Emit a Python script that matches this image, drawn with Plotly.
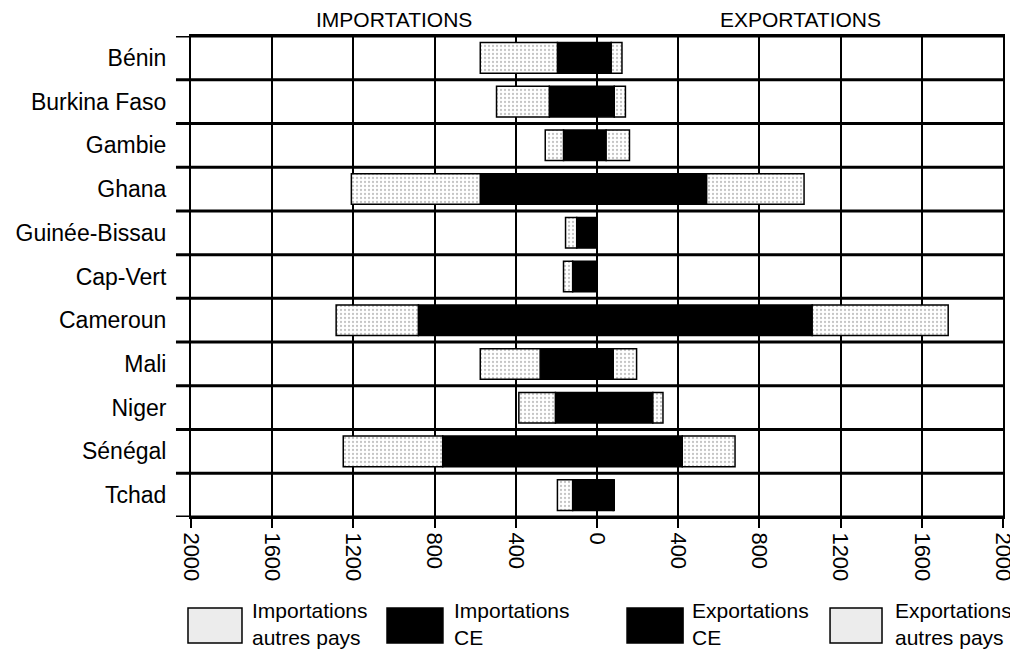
import plotly.graph_objects as go

pays = ["Bénin", "Burkina Faso", "Gambie", "Ghana", "Guinée-Bissau", "Cap-Vert",
        "Cameroun", "Mali", "Niger", "Sénégal", "Tchad"]
imp_ce = [195, 235, 165, 575, 100, 120, 880, 280, 205, 760, 120]
imp_autres = [380, 260, 90, 635, 55, 45, 405, 295, 180, 490, 75]
exp_ce = [70, 85, 45, 540, 0, 0, 1060, 80, 275, 420, 80]
exp_autres = [53, 55, 115, 480, 0, 0, 670, 115, 50, 260, 5]
tick_vals = [-2000, -1600, -1200, -800, -400, 0, 400, 800, 1200, 1600, 2000]
tick_text = ["2000", "1600", "1200", "800", "400", "0", "400", "800", "1200", "1600", "2000"]

FONT = "Liberation Sans, Arial, sans-serif"
ypos = list(range(len(pays)))
dotted = dict(shape=".", fgcolor="#8a8a8a", bgcolor="white", size=4, solidity=0.25)

fig = go.Figure()
fig.add_trace(go.Bar(y=ypos, x=[-v for v in imp_ce], orientation="h", width=0.7,
                     marker=dict(color="black", line=dict(color="black", width=1.5)),
                     name="Importations CE", showlegend=False))
fig.add_trace(go.Bar(y=ypos, x=[-v for v in imp_autres], orientation="h", width=0.7,
                     marker=dict(color="white", pattern=dotted, line=dict(color="black", width=1.5)),
                     name="Importations autres pays", showlegend=False))
fig.add_trace(go.Bar(y=ypos, x=exp_ce, orientation="h", width=0.7,
                     marker=dict(color="black", line=dict(color="black", width=1.5)),
                     name="Exportations CE", showlegend=False))
fig.add_trace(go.Bar(y=ypos, x=exp_autres, orientation="h", width=0.7,
                     marker=dict(color="white", pattern=dotted, line=dict(color="black", width=1.5)),
                     name="Exportations autres pays", showlegend=False))

shapes = []
# row boundary lines, extending left of the y axis as tick marks
for i in range(len(pays) + 1):
    shapes.append(dict(type="line", xref="paper", yref="y", x0=-0.0185, x1=1,
                       y0=i - 0.5, y1=i - 0.5, line=dict(color="black", width=3), layer="above"))
# zero separator
shapes.append(dict(type="line", xref="x", yref="paper", x0=0, x1=0, y0=0, y1=1,
                   line=dict(color="black", width=2), layer="above"))

# manual legend
leg = [
    (-0.0037, 0.0628, "#ececec", 0.0727, "Importations<br>autres pays"),
    (0.2414, 0.3103, "black", 0.3214, "Importations<br>CE"),
    (0.537, 0.606, "black", 0.6145, "Exportations<br>CE"),
    (0.787, 0.851, "#ececec", 0.8645, "Exportations<br>autres pays"),
]
annotations = []
for x0, x1, col, tx, txt in leg:
    shapes.append(dict(type="rect", xref="paper", yref="paper", x0=x0, x1=x1,
                       y0=-0.262, y1=-0.189, fillcolor=col,
                       line=dict(color="black", width=1.5)))
    annotations.append(dict(xref="paper", yref="paper", x=tx, y=-0.2225, text=txt,
                            showarrow=False, xanchor="left", yanchor="middle", align="left",
                            font=dict(family=FONT, size=21, color="black")))

annotations.append(dict(xref="paper", yref="paper", x=0.25, y=1, yshift=3, text="IMPORTATIONS",
                        showarrow=False, xanchor="center", yanchor="bottom",
                        font=dict(family=FONT, size=21, color="black")))
annotations.append(dict(xref="paper", yref="paper", x=0.75, y=1, yshift=3, text="EXPORTATIONS",
                        showarrow=False, xanchor="center", yanchor="bottom",
                        font=dict(family=FONT, size=21, color="black")))

# page body has an 8px margin, so the figure is drawn 8px smaller and offset
fig.update_layout(
    width=1010, height=641,
    margin=dict(l=183, r=15, t=28, b=132, autoexpand=False),
    barmode="relative",
    paper_bgcolor="white", plot_bgcolor="white",
    font=dict(family=FONT, color="black"),
    shapes=shapes, annotations=annotations,
    xaxis=dict(range=[-2000, 2000], tickvals=tick_vals, ticktext=tick_text,
               tickangle=90, tickfont=dict(size=22, family=FONT, color="black"),
               ticks="outside", ticklen=9, tickwidth=2, tickcolor="black",
               showgrid=True, gridcolor="black", gridwidth=1.5,
               showline=True, linecolor="black", linewidth=2, mirror=True,
               zeroline=False, fixedrange=True, automargin=False),
    yaxis=dict(range=[len(pays) - 0.5, -0.5], tickvals=ypos, ticktext=pays,
               tickfont=dict(size=23, family=FONT, color="black"),
               ticks="", ticklabelstandoff=18,
               showgrid=False, zeroline=False, automargin=False,
               showline=True, linecolor="black", linewidth=2, mirror=True),
)

fig.write_html("out.html")
